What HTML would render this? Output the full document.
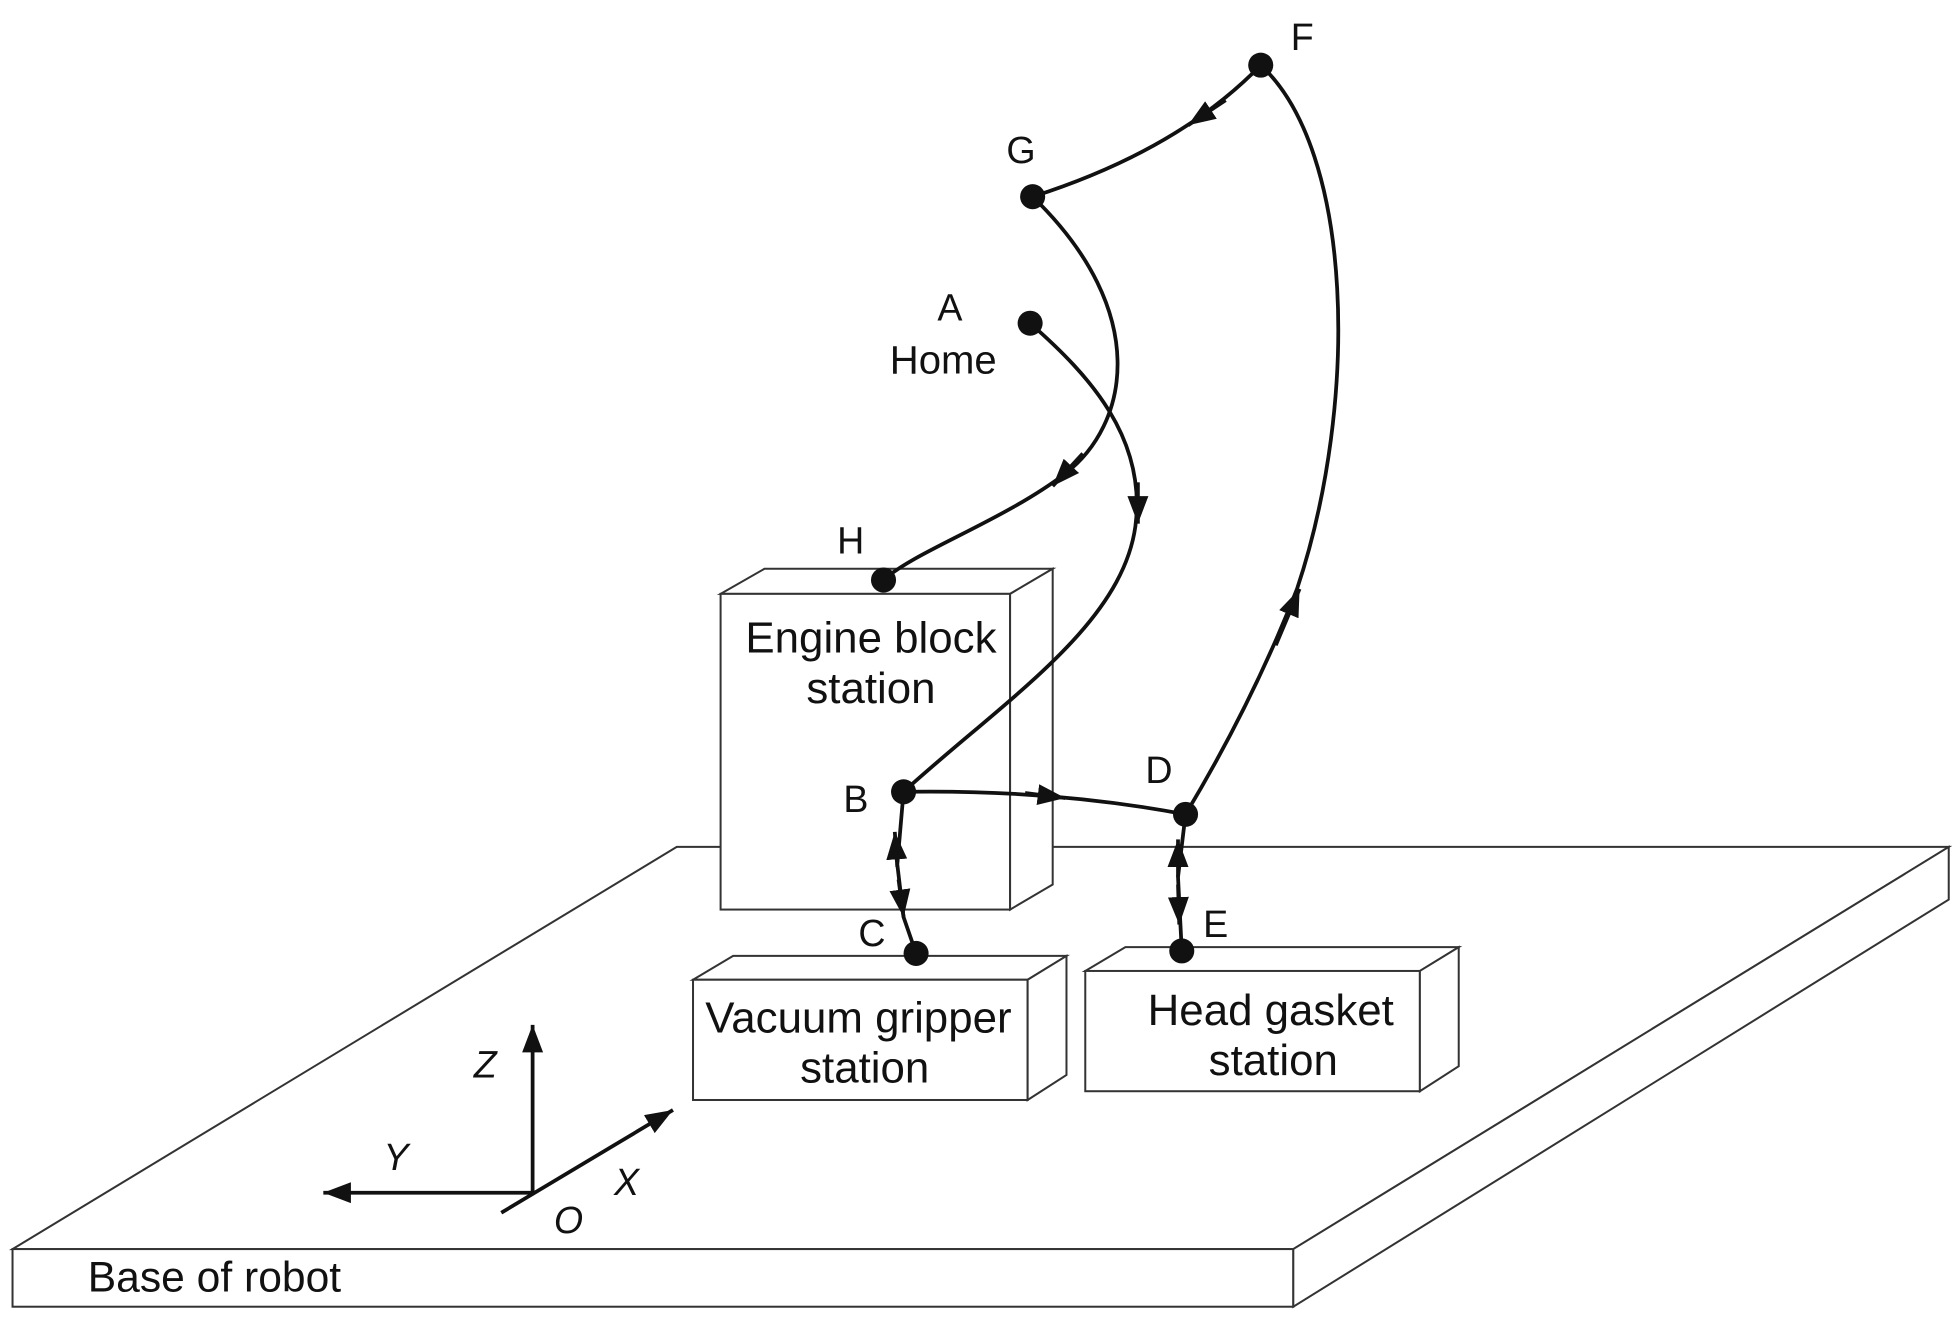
<!DOCTYPE html>
<html><head><meta charset="utf-8"><style>
html,body{margin:0;padding:0;background:#fff;}
svg{display:block;}
text{font-family:"Liberation Sans",sans-serif;fill:#111;}
</style></head><body>
<svg width="1955" height="1323" viewBox="0 0 1560 1056" preserveAspectRatio="none">
<defs>
<marker id="big" viewBox="0 0 10 10" refX="10" refY="5" markerWidth="22" markerHeight="22" markerUnits="userSpaceOnUse" orient="auto"><path d="M0,1.2 L10,5 L0,8.8 Z" fill="#111"/></marker>
</defs>
<g fill="#fff" stroke="#333" stroke-width="1.6">
<polygon points="10,997 540,676 1555,676 1032,997"/>
<rect x="10" y="997" width="1022" height="46"/>
<polygon points="1032,997 1555,676 1555,718 1032,1043"/>
<polygon points="575,474 610,454 840,454 806,474"/>
<rect x="575" y="474" width="231" height="252"/>
<polygon points="806,474 840,454 840,706 806,726"/>
<polygon points="553,782 585,763 851,763 820,782"/>
<rect x="553" y="782" width="267" height="96"/>
<polygon points="820,782 851,763 851,858 820,878"/>
<polygon points="866,775 898,756 1164,756 1133,775"/>
<rect x="866" y="775" width="267" height="96"/>
<polygon points="1133,775 1164,756 1164,851 1133,871"/>
</g>
<g fill="none" stroke="#111" stroke-width="3">
<path d="M1006,52 Q940,120 824,157"/>
<path d="M824,157 C920,250 900,340 850,378 S730,440 705,463"/>
<path d="M822,258 C870,300 915,350 906,420 C895,500 800,560 721,632"/>
<path d="M721,632 Q840,630 946,650"/>
<path d="M946,650 Q1000,560 1035,470 C1085,320 1080,120 1006,52"/>
<path d="M721,632 L716,690 L721,732 L731,761"/>
<path d="M946,650 L940,700 L943,759"/>
</g>
<g stroke="#111" stroke-width="3" fill="none">
<path d="M978,80 L948,100" marker-end="url(#big)"/>
<path d="M864,362 L840,388" marker-end="url(#big)"/>
<path d="M908,385 L908,418" marker-end="url(#big)"/>
<path d="M818,633 L850,637" marker-end="url(#big)"/>
<path d="M1018,515 L1037,470" marker-end="url(#big)"/>
<path d="M716,692 L714,664" marker-end="url(#big)"/>
<path d="M717,702 L721,732" marker-end="url(#big)"/>
<path d="M940,700 L940,670" marker-end="url(#big)"/>
<path d="M940,706 L941,738" marker-end="url(#big)"/>
</g>
<g fill="#111">
<circle cx="1006" cy="52" r="10"/>
<circle cx="824" cy="157" r="10"/>
<circle cx="822" cy="258" r="10"/>
<circle cx="705" cy="463" r="10"/>
<circle cx="721" cy="632" r="10"/>
<circle cx="946" cy="650" r="10"/>
<circle cx="731" cy="761" r="10"/>
<circle cx="943" cy="759" r="10"/>
</g>
<g stroke="#111" stroke-width="3" fill="none">
<path d="M425,952 L425,818" marker-end="url(#big)"/>
<path d="M425,952 L258,952" marker-end="url(#big)"/>
<path d="M400,968 L537,886" marker-end="url(#big)"/>
</g>
<g font-size="30">
<text x="1030" y="40">F</text>
<text x="803" y="130">G</text>
<text x="748" y="256">A</text>
<text x="710" y="298" font-size="32">Home</text>
<text x="668" y="442">H</text>
<text x="673" y="648">B</text>
<text x="914" y="625">D</text>
<text x="685" y="755">C</text>
<text x="960" y="748">E</text>
<text x="695" y="521" text-anchor="middle" font-size="35">Engine block</text>
<text x="695" y="561" text-anchor="middle" font-size="35">station</text>
<text x="685" y="824" text-anchor="middle" font-size="35">Vacuum gripper</text>
<text x="690" y="864" text-anchor="middle" font-size="35">station</text>
<text x="1014" y="818" text-anchor="middle" font-size="35">Head gasket</text>
<text x="1016" y="858" text-anchor="middle" font-size="35">station</text>
<text x="70" y="1031" font-size="34">Base of robot</text>
<text x="378" y="860" font-style="italic">Z</text>
<text x="306" y="934" font-style="italic">Y</text>
<text x="490" y="954" font-style="italic">X</text>
<text x="442" y="984" font-style="italic">O</text>
</g>
</svg>
</body></html>
